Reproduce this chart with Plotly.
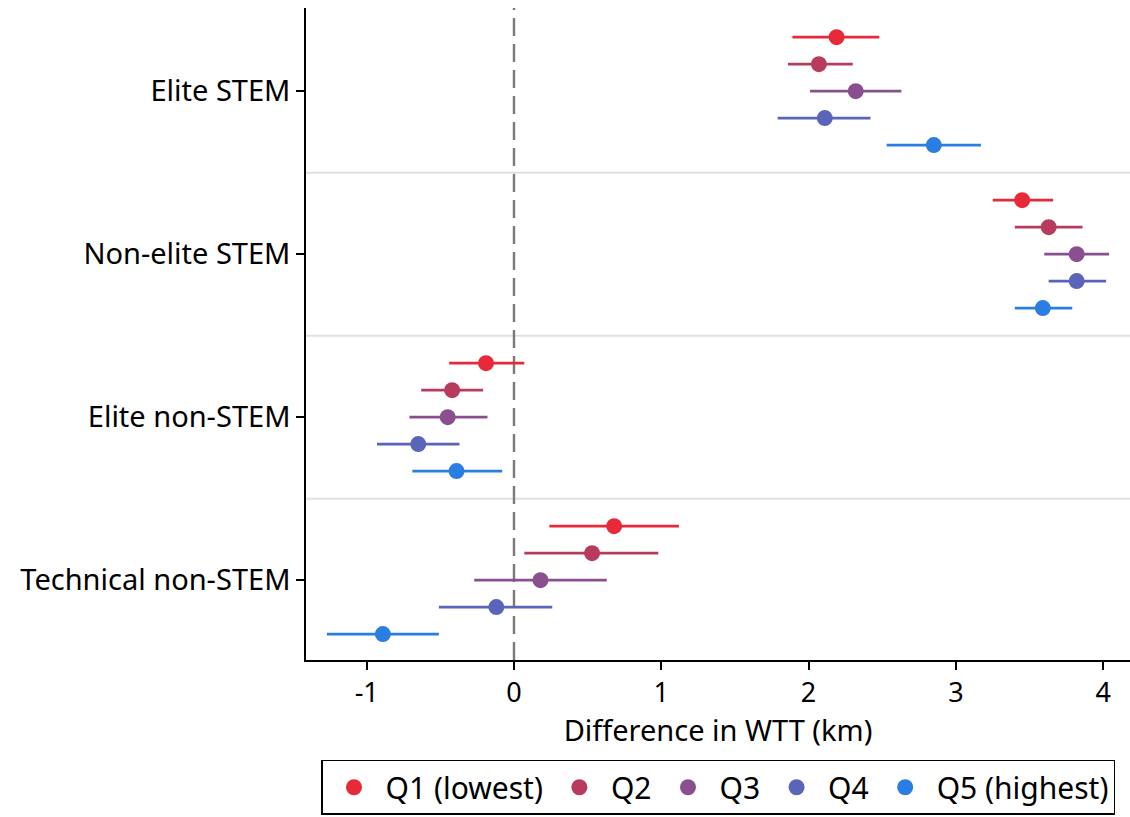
import plotly.graph_objects as go

categories = ["Elite STEM", "Non-elite STEM", "Elite non-STEM", "Technical non-STEM"]
groups = ["Q1 (lowest)", "Q2", "Q3", "Q4", "Q5 (highest)"]
colors = ["#e8293a", "#b83a5c", "#8a4f8e", "#5a64b8", "#2a7de1"]
x_ticks = [-1, 0, 1, 2, 3, 4]
x_ticktext = ["-1", "0", "1", "2", "3", "4"]

# point estimates per group, in category order
est = {
    "Q1 (lowest)":  [2.19, 3.45, -0.19, 0.68],
    "Q2":           [2.07, 3.63, -0.42, 0.53],
    "Q3":           [2.32, 3.82, -0.45, 0.18],
    "Q4":           [2.11, 3.82, -0.65, -0.12],
    "Q5 (highest)": [2.85, 3.59, -0.39, -0.89],
}
lo = {
    "Q1 (lowest)":  [1.89, 3.25, -0.44, 0.24],
    "Q2":           [1.86, 3.40, -0.63, 0.07],
    "Q3":           [2.01, 3.60, -0.71, -0.27],
    "Q4":           [1.79, 3.63, -0.93, -0.51],
    "Q5 (highest)": [2.53, 3.40, -0.69, -1.27],
}
hi = {
    "Q1 (lowest)":  [2.48, 3.66, 0.07, 1.12],
    "Q2":           [2.30, 3.86, -0.21, 0.98],
    "Q3":           [2.63, 4.04, -0.18, 0.63],
    "Q4":           [2.42, 4.02, -0.37, 0.26],
    "Q5 (highest)": [3.17, 3.79, -0.08, -0.51],
}

FONT = "Noto Sans"
ncat = len(categories)
cat_pos = [ncat - 1 - i for i in range(ncat)]  # top to bottom
step = 0.1656

fig = go.Figure()
for gi, g in enumerate(groups):
    off = (2 - gi) * step
    ys = [p + off for p in cat_pos]
    fig.add_trace(go.Scatter(
        x=est[g], y=ys, mode="markers", name=g,
        marker=dict(color=colors[gi], size=16),
        error_x=dict(type="data", symmetric=False,
                     array=[h - e for h, e in zip(hi[g], est[g])],
                     arrayminus=[e - l for e, l in zip(est[g], lo[g])],
                     color=colors[gi], thickness=2.8, width=0),
    ))

shapes = []
for k in range(ncat - 1):
    yv = k + 0.5
    shapes.append(dict(type="line", xref="paper", x0=0, x1=1, yref="y", y0=yv, y1=yv,
                       line=dict(color="#e0e0e0", width=2), layer="below"))
shapes.append(dict(type="line", xref="x", x0=0, x1=0, yref="paper", y0=0, y1=1,
                   line=dict(color="#7a7a7a", width=2.4, dash="18px,8px"), layer="below"))

fig.update_layout(
    width=1130, height=817,
    margin=dict(l=306, r=0, t=8, b=157),
    plot_bgcolor="white", paper_bgcolor="white",
    font=dict(family=FONT, size=24, color="black"),
    shapes=shapes,
    showlegend=True,
    legend=dict(orientation="h", x=0.5, xanchor="center", y=-0.153, yanchor="top",
                bordercolor="black", borderwidth=1.5, font=dict(size=30, color="black"),
                itemsizing="trace", itemwidth=53),
    xaxis=dict(range=[-1.412, 4.182], tickvals=x_ticks, ticktext=x_ticktext,
               tickfont=dict(size=27),
               showgrid=False, zeroline=False, showline=True, linecolor="black", linewidth=1.5,
               ticks="outside", ticklen=8, tickwidth=1.5, tickcolor="black",
               title=dict(text="Difference in WTT (km)", standoff=0)),
    yaxis=dict(range=[-0.49, 3.51], tickvals=cat_pos, ticktext=categories,
               tickfont=dict(size=29),
               showgrid=False, zeroline=False, showline=True, linecolor="black", linewidth=1.5,
               ticks="outside", ticklen=8, tickwidth=1.5, tickcolor="black"),
)

fig.write_html("out.html")
